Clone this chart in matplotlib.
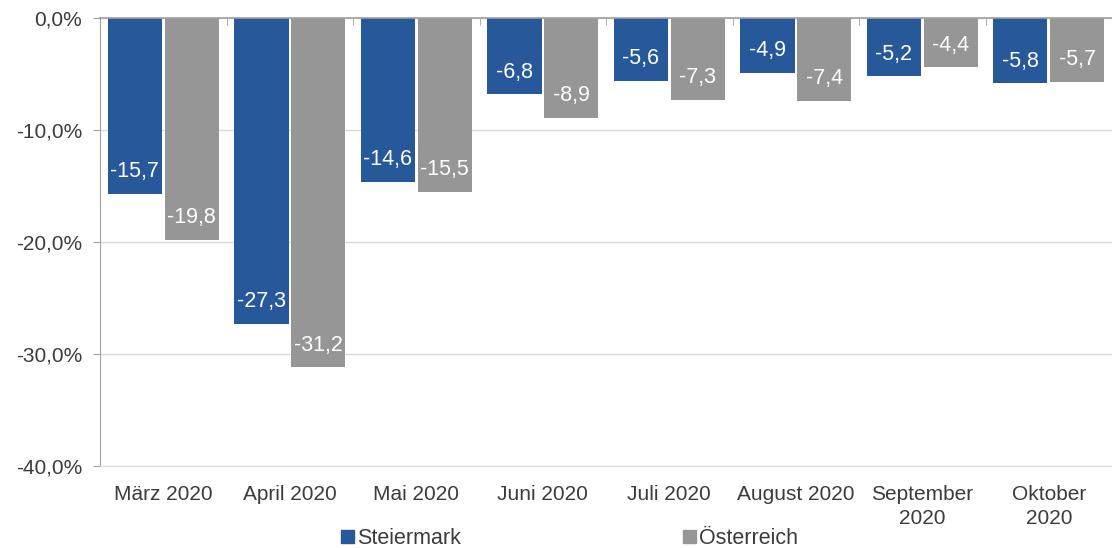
import matplotlib.pyplot as plt
import numpy as np
from matplotlib.ticker import FuncFormatter, FixedLocator
from matplotlib.patches import Patch

plt.rcParams['font.family'] = ['Liberation Sans', 'DejaVu Sans']

# Data
months = ['März 2020', 'April 2020', 'Mai 2020', 'Juni 2020', 'Juli 2020',
          'August 2020', 'September\n2020', 'Oktober\n2020']
steiermark = [-15.7, -27.3, -14.6, -6.8, -5.6, -4.9, -5.2, -5.8]
oesterreich = [-19.8, -31.2, -15.5, -8.9, -7.3, -7.4, -4.4, -5.7]
series_names = ['Steiermark', 'Österreich']

blue = '#27589A'
grey = '#969696'
text_col = '#3C3C3C'

fig = plt.figure(figsize=(11.12, 5.48), dpi=100)
ax = fig.add_axes([0.09, 0.150, 0.91, 0.817])

x = np.arange(len(months))
w = 0.43
off = 0.225
bars_s = ax.bar(x - off, steiermark, w, color=blue, zorder=2)
bars_o = ax.bar(x + off, oesterreich, w, color=grey, zorder=2)

# value labels inside the bar ends
for bars, vals in [(bars_s, steiermark), (bars_o, oesterreich)]:
    for b, v in zip(bars, vals):
        ax.annotate(f'{v:.1f}'.replace('.', ','),
                    (b.get_x() + b.get_width() / 2, v),
                    xytext=(0, 22), textcoords='offset pixels',
                    ha='center', va='center', color='white', fontsize=15.5, zorder=3)

ax.set_xlim(-0.5, len(months) - 0.5)
ax.set_ylim(-40, 0)

ax.yaxis.set_major_locator(FixedLocator([-40, -30, -20, -10, 0]))
ax.yaxis.set_major_formatter(FuncFormatter(lambda v, p: f'{v:.1f}%'.replace('.', ',')))
ax.grid(axis='y', color='#D9D9D9', linewidth=1, zorder=0)
ax.set_axisbelow(True)

ax.set_xticks(x)
ax.set_xticklabels(months, linespacing=1.3)
ax.xaxis.set_minor_locator(FixedLocator(np.arange(-0.5, len(months), 1)))
ax.tick_params(axis='x', which='major', length=0, pad=14, labelsize=15, labelcolor=text_col)
ax.tick_params(axis='x', which='minor', bottom=False, top=True, direction='in',
               length=5, color='#A0A0A0')
ax.tick_params(axis='y', length=5, color='#A0A0A0', labelsize=15, labelcolor=text_col, pad=8)

ax.spines['right'].set_visible(False)
ax.spines['left'].set_color('#A0A0A0')
ax.spines['top'].set_color('#A0A0A0')
ax.spines['top'].set_linewidth(1.2)
ax.spines['bottom'].set_color('#D9D9D9')

handles = [Patch(color=blue), Patch(color=grey)]
fig.legend(handles, series_names, loc='center', bbox_to_anchor=(0.512, 0.017), ncol=2,
           frameon=False, fontsize=15.5, labelcolor=text_col,
           handlelength=0.6, handleheight=0.6, handletextpad=0.15, columnspacing=10.3)

fig.savefig('out.png', dpi=100)
